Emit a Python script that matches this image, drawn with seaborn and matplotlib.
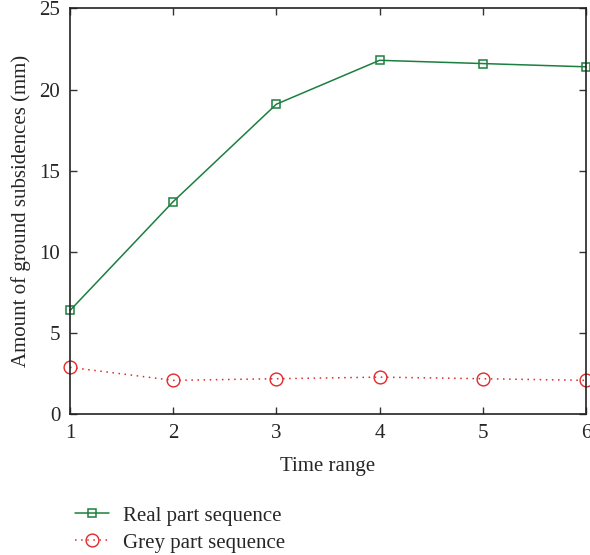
import matplotlib
matplotlib.use("Agg")
import matplotlib.pyplot as plt
import seaborn as sns
import pandas as pd

time_range = [1, 2, 3, 4, 5, 6]
real_part = [6.4, 13.1, 19.1, 21.8, 21.6, 21.4]
grey_part = [2.9, 2.1, 2.2, 2.3, 2.2, 2.1]
xticks = [1, 2, 3, 4, 5, 6]
yticks = [0, 5, 10, 15, 20, 25]

sns.set_theme(style="ticks")
plt.rcParams['font.family'] = ['Liberation Serif', 'DejaVu Serif']
plt.rcParams['xtick.direction'] = 'in'
plt.rcParams['ytick.direction'] = 'in'

fig = plt.figure(figsize=(5.9, 5.55), dpi=100)
ax = fig.add_axes([0.1186, 0.2532, 0.8746, 0.7318])

df = pd.DataFrame({"t": time_range, "real": real_part, "grey": grey_part})
green = "#1b7f3f"
red = "#e0282a"
sns.lineplot(data=df, x="t", y="real", ax=ax, color=green, lw=1.1,
             marker="s", markersize=5.5, markerfacecolor="none",
             markeredgecolor=green, markeredgewidth=1.1,
             label="Real part sequence", clip_on=False)
sns.lineplot(data=df, x="t", y="grey", ax=ax, color=red, lw=1.1,
             linestyle=(0, (1, 3)), marker="o", markersize=9.2,
             markerfacecolor="none", markeredgecolor=red, markeredgewidth=1.0,
             label="Grey part sequence", clip_on=False)

ax.set_xlim(1, 6)
ax.set_ylim(0, 25)
ax.set_xticks(xticks)
ax.set_yticks(yticks)
ax.tick_params(top=True, right=True, labelsize=15, length=5, width=1, color="#333333", pad=7)
for s in ax.spines.values():
    s.set_linewidth(1.2)
    s.set_color("#222222")
ax.set_xlabel("Time range", fontsize=15, labelpad=10)
ax.set_ylabel("Amount of ground subsidences (mm)", fontsize=15, labelpad=6)

handles, labels = ax.get_legend_handles_labels()
ax.get_legend().remove()
fig.legend(handles, labels, loc="upper left", bbox_to_anchor=(75 / 590, 1 - 506 / 555),
           frameon=False, fontsize=15, handlelength=1.63, handletextpad=0.67,
           labelspacing=0.36, borderpad=0, borderaxespad=0)

fig.savefig("out.png", dpi=100)
